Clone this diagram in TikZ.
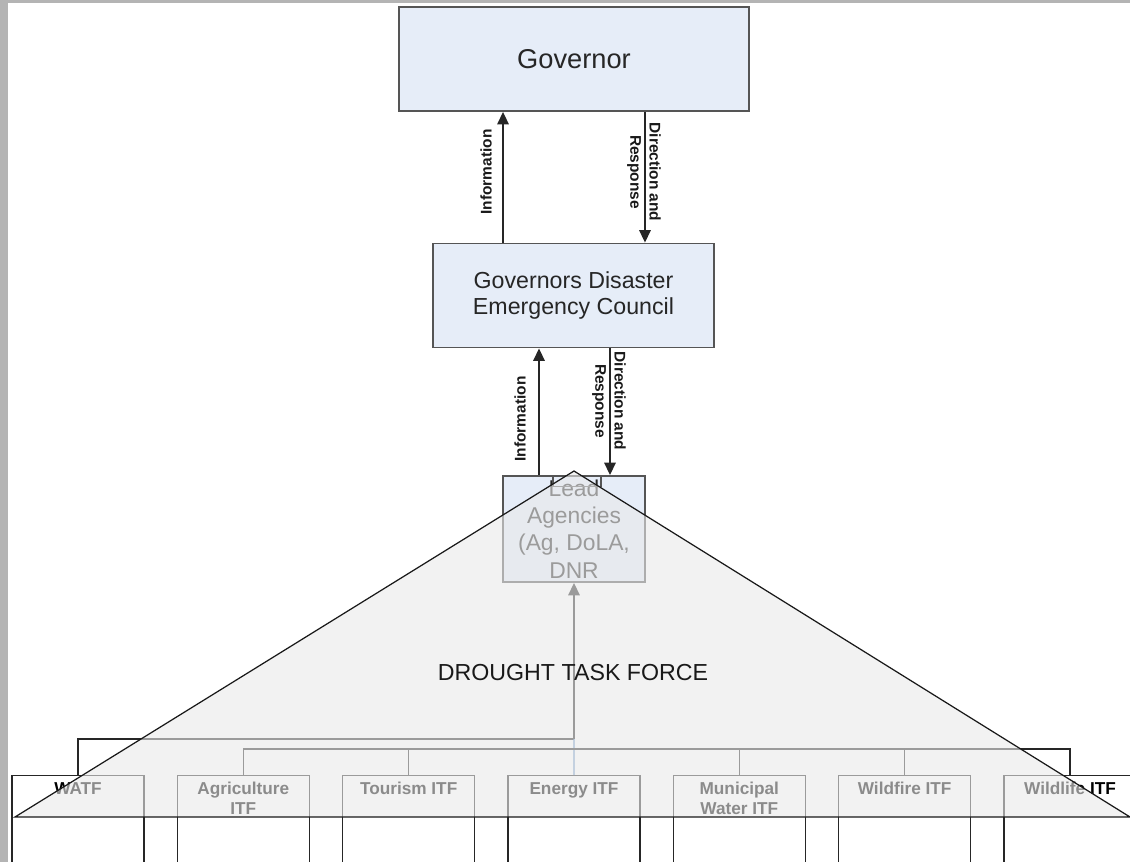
\documentclass[tikz,border=0pt]{standalone}
\usepackage{fontspec}
\setmainfont{Liberation Sans}
\usetikzlibrary{arrows.meta,positioning,calc}
\definecolor{boxfill}{RGB}{230,237,248}
\definecolor{boxline}{RGB}{85,85,85}
\definecolor{frame}{RGB}{180,180,180}
\definecolor{veil}{RGB}{233,233,233}
\definecolor{busblue}{RGB}{79,129,189}
\tikzset{
  govbox/.style={draw=boxline,fill=boxfill,line width=1.1pt,minimum height=2.08cm,align=center,text=black!85},
  itfbox/.style={draw=black!85,line width=0.8pt,minimum width=2.64cm,minimum height=2.3cm,anchor=north,inner sep=0pt},
  itflbl/.style={font=\bfseries\fontsize{9.8}{11.3}\selectfont,align=center,anchor=north,inner sep=0pt,text=black},
  sidelbl/.style={font=\bfseries\fontsize{8.8}{10.9}\selectfont,align=center,text=black!90},
  arr/.style={-{Triangle[length=7pt,width=6.5pt]},line width=0.75pt,black!85},
  conn/.style={line width=0.75pt,black!85},
  veiltri/.style={fill=veil,fill opacity=0.6,draw=black!90,draw opacity=1,line width=0.7pt}
}
\begin{document}
\begin{tikzpicture}[x=0.02cm,y=-0.02cm]
  \useasboundingbox (0,0) rectangle (1130,862);
  \clip (0,0) rectangle (1130,862);
  % window frame
  \fill[frame] (0,0) rectangle (1130,3);
  \fill[frame] (0,0) rectangle (8,862);

  % Governor, council and lead agencies
  \node[govbox,minimum width=7cm,font=\fontsize{15.5}{18}\selectfont] (gov) at (574,59) {Governor};
  \node[govbox,minimum width=5.62cm,font=\fontsize{13.2}{15.3}\selectfont] (gdec) at (573.5,295.5) {Governors Disaster\\Emergency Council};
  \node[govbox,minimum width=2.84cm,minimum height=2.12cm,inner sep=1pt,font=\fontsize{13}{15.6}\selectfont] (lead) at (574,529) {Lead\\Agencies\\(Ag, DoLA,\\DNR};
  \node[draw=boxline,line width=0.8pt,minimum width=0.96cm,minimum height=0.22cm,inner sep=0pt,anchor=north] (leadtab) at ([xshift=0.06cm]lead.north) {};

  % Information up, direction down
  \draw[arr] ([xshift=-1.42cm]gov.south |- gdec.north) -- ([xshift=-1.42cm]gov.south);
  \draw[arr] ([xshift=1.42cm]gov.south) -- ([xshift=1.42cm]gov.south |- gdec.north);
  \node[sidelbl,rotate=90] (info1) at (486,172) {Information};
  \node[sidelbl,rotate=-90] (dir1) at (644,172) {Direction and\\Response};

  \draw[arr] ([xshift=-0.69cm]gdec.south |- lead.north) -- ([xshift=-0.69cm]gdec.south);
  \draw[arr] ([xshift=0.73cm]gdec.south) -- ([xshift=0.73cm]gdec.south |- lead.north);
  \node[sidelbl,rotate=90] (info2) at (520,419) {Information};
  \node[sidelbl,rotate=-90] (dir2) at (609,401) {Direction and\\Response};

  % Interagency task forces
  \foreach \nm/\txt [count=\i from 0] in {watf/WATF,agr/{Agriculture\\ITF},tour/Tourism ITF,enr/Energy ITF,mun/{Municipal\\Water ITF},wfire/Wildfire ITF,wlife/Wildlife ITF} {
    \node[itfbox] (\nm) at ({78+165.33*\i},775) {};
    \node[itflbl] at ([yshift=-4pt]\nm.north) {\txt};
  }

  \coordinate (jn) at (574,739);
  \coordinate (bus) at (574,749);
  \draw[conn] (watf.north) |- (jn);
  \draw[arr] (jn) -- (lead.south);
  \draw[conn,busblue] (enr.north) -- (jn);
  \draw[conn] (agr.north) |- (bus) -| (wlife.north);
  \foreach \b in {tour,mun,wfire}
    \draw[conn] (\b.north) -- (\b.north |- bus);

  % Drought task force
  \coordinate (apex) at (574,471);
  \coordinate (bl) at (15,817);
  \coordinate (br) at (1130,817);
  \draw[veiltri] (apex) -- (bl) -- (br) -- cycle;
  \node[font=\fontsize{13.2}{15}\selectfont,text=black!90] (dtf) at (573,673) {DROUGHT TASK FORCE};
\end{tikzpicture}
\end{document}
